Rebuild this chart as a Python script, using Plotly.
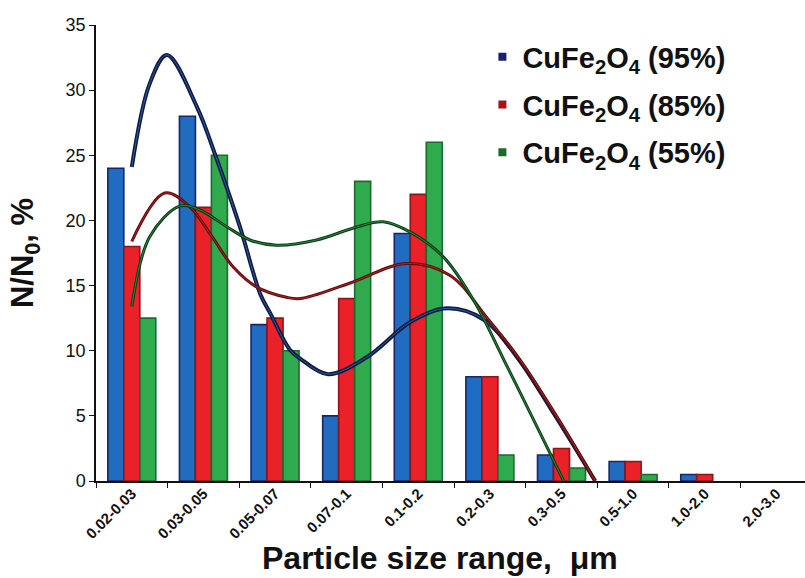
import plotly.graph_objects as go

categories = ["0.02-0.03", "0.03-0.05", "0.05-0.07", "0.07-0.1", "0.1-0.2",
              "0.2-0.3", "0.3-0.5", "0.5-1.0", "1.0-2.0", "2.0-3.0"]
cat_pos = list(range(len(categories)))

series_names = ["CuFe<sub>2</sub>O<sub>4</sub> (95%)",
                "CuFe<sub>2</sub>O<sub>4</sub> (85%)",
                "CuFe<sub>2</sub>O<sub>4</sub> (55%)"]
vals_95 = [24, 28, 12, 5, 19, 8, 2, 1.5, 0.5, 0]
vals_85 = [18, 21, 12.5, 14, 22, 8, 2.5, 1.5, 0.5, 0]
vals_55 = [12.5, 25, 10, 23, 26, 2, 1, 0.5, 0, 0]

# smooth trend curves (x in category units)
curve95_x = [0.0, 0.25, 0.49, 0.91, 1.16, 1.51, 1.79, 1.93, 2.21, 2.35, 2.74, 3.28, 3.89, 4.40, 4.91, 5.38, 5.89, 6.47]
curve95_y = [24.1, 30.5, 32.7, 28.7, 25.1, 19.5, 14.4, 12.9, 10.05, 9.4, 8.2, 9.5, 12.2, 13.25, 12.4, 9.5, 5.2, 0]
curve85_x = [0.0, 0.46, 0.81, 1.12, 1.42, 1.74, 2.16, 2.35, 3.05, 3.84, 4.44, 4.95, 5.42, 5.94, 6.47]
curve85_y = [18.4, 22.1, 21.05, 18.75, 16.4, 14.9, 14.1, 14.0, 15.2, 16.7, 15.8, 12.6, 9.3, 4.9, 0]
curve55_x = [0.0, 0.25, 0.67, 0.95, 1.33, 1.65, 2.02, 2.58, 3.14, 3.51, 3.89, 4.35, 4.77, 5.24, 5.70, 6.03]
curve55_y = [13.4, 18.75, 21.1, 20.8, 19.5, 18.5, 18.1, 18.5, 19.5, 19.9, 19.1, 17.2, 13.9, 8.8, 3.7, 0]

y_ticks = [0, 5, 10, 15, 20, 25, 30, 35]

FONT = "Liberation Sans, Arial, sans-serif"
fill_cols = ["#1f6cc0", "#ea2128", "#2faa4c"]
edge_cols = ["#1b2566", "#8e1518", "#1c6a32"]
legend_cols = ["#1a1f6e", "#a0141a", "#1b6a2c"]

fig = go.Figure()
for vals, fc, ec in zip([vals_95, vals_85, vals_55], fill_cols, edge_cols):
    widths = [1.6 if v > 0 else 0 for v in vals]
    fig.add_trace(go.Bar(x=cat_pos, y=vals, marker=dict(color=fc, line=dict(color=ec, width=widths)),
                         showlegend=False))

curves = [(curve95_x, curve95_y, "#101a3c", "#2a5cb0", 4.0),
          (curve85_x, curve85_y, "#5e0e0e", "#b02020", 3.0),
          (curve55_x, curve55_y, "#0c3a18", "#2a8a3a", 3.0)]
for cx, cy, outer, inner, w in curves:
    fig.add_trace(go.Scatter(x=cx, y=cy, mode="lines", line=dict(color=outer, width=w, shape="spline", smoothing=1.0),
                             showlegend=False, hoverinfo="skip"))
    fig.add_trace(go.Scatter(x=cx, y=cy, mode="lines", line=dict(color=inner, width=1.0, shape="spline", smoothing=1.0),
                             showlegend=False, hoverinfo="skip"))

for i, (name, lc) in enumerate(zip(series_names, legend_cols)):
    fig.add_trace(go.Scatter(x=[None], y=[None], mode="markers", name=name,
                             marker=dict(symbol="square", size=8, color=lc),
                             legendgroup=f"g{i}"))

fig.update_layout(
    width=805, height=578,
    margin=dict(l=96, r=0, t=25, b=97),
    paper_bgcolor="white", plot_bgcolor="white",
    barmode="group", bargap=0.33, bargroupgap=0,
    font=dict(family=FONT, color="#111111"),
    showlegend=True,
    legend=dict(x=0.545, y=0.986, xanchor="left", yanchor="top",
                font=dict(family=FONT, size=29, color="#111111", weight="bold"),
                tracegroupgap=7, traceorder="grouped", bgcolor="rgba(0,0,0,0)",
                itemsizing="trace"),
    xaxis=dict(range=[-0.5, 9.4], tickmode="array", tickvals=[p - 0.5 for p in cat_pos],
               showticklabels=False, ticks="outside", ticklen=5, tickcolor="#111",
               showline=True, linecolor="#111", linewidth=1.5, showgrid=False, zeroline=False),
    xaxis2=dict(range=[-0.5, 9.4], overlaying="x", tickmode="array", tickvals=cat_pos, ticktext=categories,
                tickangle=-45, tickfont=dict(family=FONT, size=15, color="#111", weight="bold"),
                side="bottom", showline=False, showgrid=False, zeroline=False, ticks="", anchor="y"),
    yaxis=dict(range=[0, 35], tickvals=y_ticks, ticks="outside", ticklen=5, tickcolor="#111",
               tickfont=dict(family=FONT, size=18, color="#111"),
               showline=True, linecolor="#111", linewidth=1.5, showgrid=False, zeroline=False),
    annotations=[
        dict(text="Particle size range,  μm", xref="paper", yref="paper", x=0.485, y=-0.168,
             xanchor="center", yanchor="middle", showarrow=False,
             font=dict(family=FONT, size=32, color="#111", weight="bold")),
        dict(text="N/N<sub>0</sub>, %", xref="paper", yref="paper", x=-0.1, y=0.5,
             xanchor="center", yanchor="middle", textangle=-90, showarrow=False,
             font=dict(family=FONT, size=31, color="#111", weight="bold")),
    ],
)
# dummy trace on xaxis2 to show category labels
fig.add_trace(go.Scatter(x=cat_pos, y=[None]*len(cat_pos), xaxis="x2", yaxis="y", showlegend=False,
                         hoverinfo="skip", mode="markers"))

fig.write_html("out.html")
